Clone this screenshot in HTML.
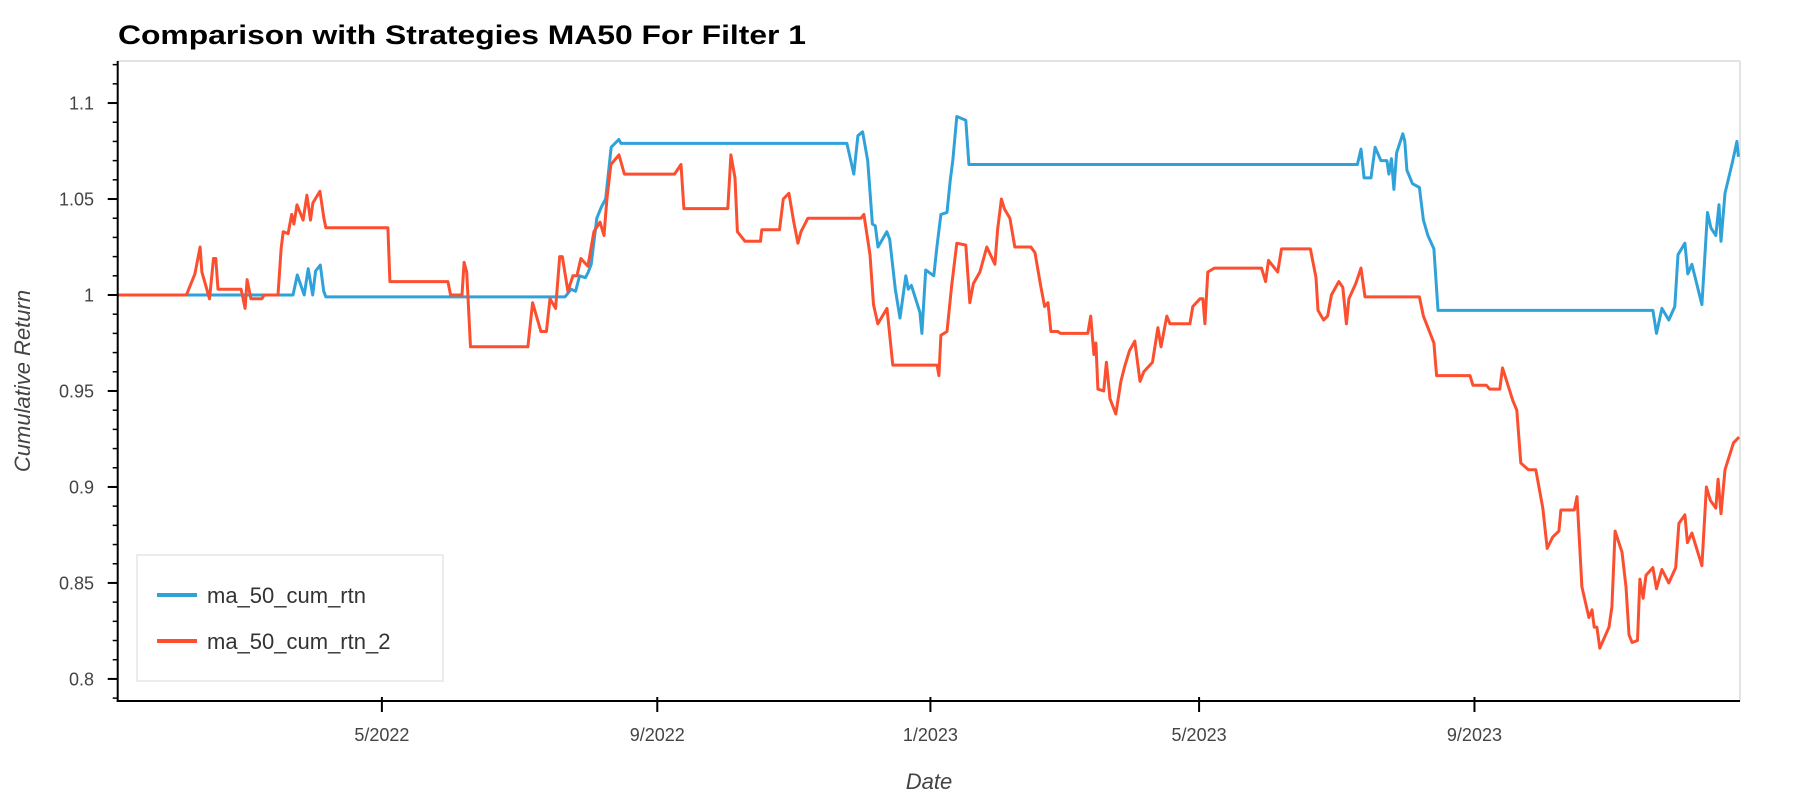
<!DOCTYPE html>
<html><head><meta charset="utf-8">
<style>
html,body{margin:0;padding:0;background:#fff;}
svg{display:block;font-family:"Liberation Sans",Arial,sans-serif;}
</style></head>
<body>
<svg id="chart" width="1800" height="800" viewBox="0 0 1800 800" xmlns="http://www.w3.org/2000/svg">
  <text x="118" y="44" font-size="27" font-weight="bold" fill="#000" textLength="688" lengthAdjust="spacingAndGlyphs">Comparison with Strategies MA50 For Filter 1</text>
  <g id="frame">
    <line x1="117.7" y1="61" x2="1740" y2="61" stroke="#e3e3e3" stroke-width="2"/>
    <line x1="1740" y1="61" x2="1740" y2="701" stroke="#e3e3e3" stroke-width="2"/>
  </g>
  <g id="series"></g>
  <g id="axes"></g>
  <text transform="translate(30,381) rotate(-90)" text-anchor="middle" font-size="22" font-style="italic" fill="#444">Cumulative Return</text>
  <text x="929" y="789" text-anchor="middle" font-size="22" font-style="italic" fill="#444">Date</text>
  <g>
    <rect x="137" y="555" width="306" height="126" fill="#fff" stroke="#ececec" stroke-width="2"/>
    <line x1="157" y1="595" x2="197" y2="595" stroke="#30a2da" stroke-width="4"/>
    <text x="207" y="603" font-size="22" fill="#333">ma_50_cum_rtn</text>
    <line x1="157" y1="641" x2="197" y2="641" stroke="#fc4f30" stroke-width="4"/>
    <text x="207" y="649" font-size="22" fill="#333">ma_50_cum_rtn_2</text>
  </g>
</svg>
<script>
// Data: day offsets from 2022-01-03, and cumulative return values
const startDate = "2022-01-03";
const blueDays = [0,78.3,80.2,83.3,85.1,87.1,88.4,90.5,92,93,199.8,202.5,204.5,206.3,208.9,210.2,211.5,214,216.1,217.9,220.4,223.8,224.8,325.7,328.8,330.6,332.7,335,337.1,338.4,339.6,343.5,344.8,347.3,349.4,352,353.1,354.5,358.3,359.2,360.9,364.5,365.9,367.7,370.4,371.9,373,374.8,378.8,380.2,553.7,555.3,556.7,559.8,561.6,564.2,566.9,567.8,568.9,570,571.2,574,574.9,575.8,578.3,581.4,583.2,585.2,587.9,589.7,685.7,687.3,689.7,692.8,695.5,696.9,700,701.3,703.1,707.6,710.1,711.6,713.8,715.2,716.1,717.9,721.4,723.2,723.9];
const blueValues = [1,1,1.0104,1,1.0137,1,1.0125,1.0156,1.002,0.999,0.999,1.003,1.002,1.01,1.009,1.012,1.016,1.04,1.046,1.05,1.077,1.081,1.079,1.079,1.063,1.083,1.085,1.07,1.037,1.036,1.025,1.033,1.029,1.003,0.988,1.01,1.003,1.005,0.991,0.98,1.013,1.01,1.025,1.042,1.043,1.06,1.07,1.093,1.091,1.068,1.068,1.076,1.061,1.061,1.077,1.07,1.07,1.063,1.071,1.055,1.074,1.084,1.08,1.065,1.058,1.056,1.039,1.031,1.024,0.992,0.992,0.98,0.993,0.987,0.994,1.021,1.027,1.011,1.016,0.995,1.043,1.035,1.031,1.047,1.028,1.053,1.07,1.08,1.072];
const redDays = [0,30.7,34.5,36.8,37.6,41,42.8,43.8,44.8,55.1,56.9,57.8,59.5,64.4,65.4,71.6,73,73.9,76.1,77.7,78.7,80.1,82.8,84.5,86.1,87.2,90.3,92.1,93,120.7,121.6,147.5,148.7,153.8,154.7,155.9,157.6,183.2,185.3,189,191.5,193.1,195.6,197.4,198.6,201.1,203.3,205.1,206.9,210,212.7,215.4,217.2,218.5,220.3,223.9,226.3,248.7,251.6,252.9,272.5,273.9,275.7,276.8,280.2,287.1,287.7,295.6,297.3,299.8,302,303.8,305.2,308.3,332,333.3,336,337.6,339.5,343.6,346.2,366,366.8,367.7,370.4,372.5,374.8,378.8,380.6,382.2,385.1,388.2,391.8,393,394.7,396,398.5,400.7,407.9,409.7,412.2,414,415.5,416.8,419.9,421.1,433.3,434.6,436,436.9,437.8,440.4,441.6,443.2,445.8,448.1,449.8,451.9,454.3,456.6,458.3,462.2,464.6,466,468.6,470,478.9,480.2,483.4,484.7,485.6,486.9,489.9,510.9,512.7,514,518.1,519.8,532.7,535.2,536.1,538.6,540.4,542.1,545.4,547.2,548.8,549.9,553,555.3,557.1,581.4,583.2,585.2,587.9,589.1,604,605.3,611.3,612.8,617.3,618.5,622.3,623.1,624.9,626.7,630.1,633.4,636.5,638.5,641,643.7,644.6,650.6,651.8,654,657.1,658.5,659.5,660.7,662,666.1,667.4,668.8,671.9,673.7,675,676.4,678.8,679.9,681.3,682.6,685.7,687.3,689.7,692.8,695.9,697.3,700,701.1,703.1,707.6,709.6,711.4,713.8,714.8,716.1,717.9,721.7,724.2];
const redValues = [1,1,1.011,1.025,1.012,0.998,1.019,1.019,1.003,1.003,0.993,1.008,0.998,0.998,1,1,1.024,1.033,1.032,1.042,1.037,1.047,1.039,1.052,1.039,1.048,1.054,1.04,1.035,1.035,1.007,1.007,1,1,1.017,1.012,0.973,0.973,0.996,0.981,0.981,0.998,0.993,1.02,1.02,1.002,1.01,1.01,1.019,1.015,1.033,1.038,1.031,1.05,1.068,1.073,1.063,1.063,1.068,1.045,1.045,1.073,1.061,1.033,1.028,1.028,1.034,1.034,1.05,1.053,1.038,1.027,1.033,1.04,1.04,1.042,1.021,0.995,0.985,0.993,0.9635,0.9635,0.958,0.979,0.981,1.005,1.027,1.026,0.996,1.006,1.012,1.025,1.016,1.034,1.05,1.045,1.04,1.025,1.025,1.022,1.005,0.994,0.996,0.981,0.981,0.98,0.98,0.989,0.969,0.975,0.951,0.95,0.965,0.946,0.938,0.955,0.963,0.971,0.976,0.955,0.96,0.965,0.983,0.973,0.989,0.985,0.985,0.994,0.998,0.998,0.985,1.012,1.014,1.014,1.007,1.018,1.012,1.024,1.024,1.009,0.992,0.987,0.989,1,1.007,1.004,0.985,0.998,1.006,1.014,0.999,0.999,0.989,0.983,0.975,0.958,0.958,0.953,0.953,0.951,0.951,0.962,0.948,0.945,0.94,0.9125,0.909,0.909,0.889,0.868,0.874,0.877,0.888,0.888,0.895,0.848,0.832,0.836,0.827,0.827,0.816,0.827,0.8375,0.877,0.866,0.848,0.823,0.819,0.82,0.852,0.842,0.854,0.858,0.847,0.857,0.85,0.858,0.881,0.8855,0.871,0.876,0.859,0.9,0.893,0.889,0.904,0.886,0.909,0.923,0.926];
const yTickValues = [0.8,0.85,0.9,0.95,1,1.05,1.1];
const yTickLabels = ["0.8","0.85","0.9","0.95","1","1.05","1.1"];
const xTickDates = ["2022-05-01","2022-09-01","2023-01-01","2023-05-01","2023-09-01"];
const xTickLabels = ["5/2022","9/2022","1/2023","5/2023","9/2023"];

const NS = "http://www.w3.org/2000/svg";
const X0 = 117.7, X1 = 1740, Y0 = 61, Y1 = 701;
const D0 = 0, D1 = 724.6;
const V0 = 0.7885, V1 = 1.1219;
const startMs = Date.parse(startDate + "T00:00:00Z");
function xScale(day){ return X0 + (day - D0) / (D1 - D0) * (X1 - X0); }
function yScale(v){ return Y1 - (v - V0) / (V1 - V0) * (Y1 - Y0); }
function dateToDay(s){ return (Date.parse(s + "T00:00:00Z") - startMs) / 86400000; }
function mk(tag, attrs){ const e = document.createElementNS(NS, tag); for (const k in attrs) e.setAttribute(k, attrs[k]); return e; }

const series = document.getElementById("series");
function drawLine(days, vals, color, name){
  let d = "";
  for (let i = 0; i < days.length; i++) d += (i ? "L" : "M") + xScale(days[i]).toFixed(1) + "," + yScale(vals[i]).toFixed(1);
  const p = mk("path", {d: d, fill: "none", stroke: color, "stroke-width": 3, "stroke-linejoin": "round"});
  
  
  series.appendChild(p);
}
drawLine(blueDays, blueValues, "#30a2da", "line-ma-50-cum-rtn");
drawLine(redDays, redValues, "#fc4f30", "line-ma-50-cum-rtn-2");

const axes = document.getElementById("axes");
const yAxis = mk("line", {x1: X0, y1: Y0, x2: X0, y2: Y1 + 1, stroke: "#000", "stroke-width": 2});


axes.appendChild(yAxis);
const xAxis = mk("line", {x1: X0 - 1, y1: Y1, x2: X1, y2: Y1, stroke: "#000", "stroke-width": 2});


axes.appendChild(xAxis);

// minor y ticks every 0.01
for (let k = Math.ceil(V0 * 100); k <= Math.floor(V1 * 100); k++) {
  const y = yScale(k / 100);
  const t = mk("line", {x1: X0 - 5, y1: y, x2: X0, y2: y, stroke: "#000", "stroke-width": 1.5});
  
  
  axes.appendChild(t);
}
yTickValues.forEach((v, i) => {
  const y = yScale(v);
  const t = mk("line", {x1: X0 - 10, y1: y, x2: X0, y2: y, stroke: "#000", "stroke-width": 2});
  
  
  axes.appendChild(t);
  const lb = mk("text", {x: 94, y: y + 6.5, "text-anchor": "end", "font-size": 18, fill: "#444"});
  lb.textContent = yTickLabels[i];
  
  
  axes.appendChild(lb);
});
xTickDates.forEach((s, i) => {
  const x = xScale(dateToDay(s));
  const t = mk("line", {x1: x, y1: Y1 - 4, x2: x, y2: Y1 + 11, stroke: "#000", "stroke-width": 2});
  
  
  axes.appendChild(t);
  const lb = mk("text", {x: x, y: 741, "text-anchor": "middle", "font-size": 18, fill: "#444"});
  lb.textContent = xTickLabels[i];
  
  
  axes.appendChild(lb);
});
</script>
</body></html>
